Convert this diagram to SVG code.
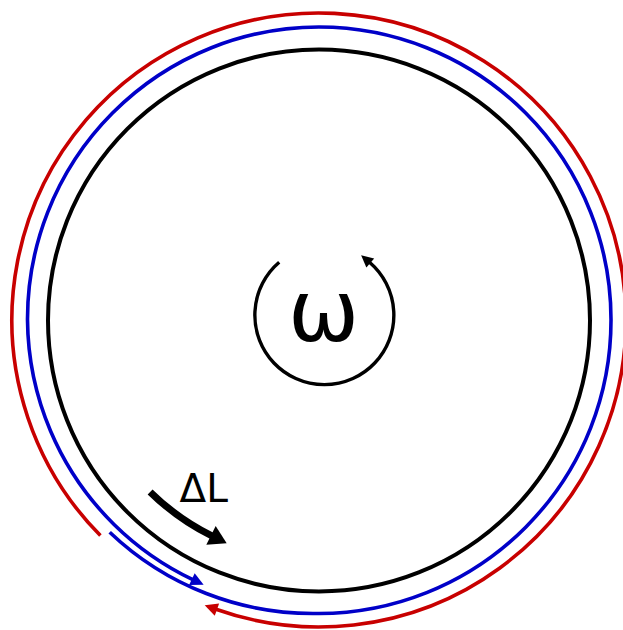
<svg xmlns="http://www.w3.org/2000/svg" width="623" height="630" viewBox="0 0 623 630">
<style>
.ring{fill:none;stroke:#000;stroke-width:4}
.red{fill:none;stroke:#c80000;stroke-width:3.6}
.blue{fill:none;stroke:#0000c8;stroke-width:3.6}
.blk{fill:none;stroke:#000}
.lbl{font-family:"DejaVu Sans",sans-serif;fill:#000}
</style>
<defs>
<marker id="ahRed" markerUnits="userSpaceOnUse" markerWidth="16" markerHeight="14" refX="1" refY="6.5" orient="auto" overflow="visible">
<path d="M0,0 L13,6.5 L0,13 Z" fill="#c80000"/>
</marker>
<marker id="ahBlue" markerUnits="userSpaceOnUse" markerWidth="16" markerHeight="14" refX="1" refY="6.5" orient="auto" overflow="visible">
<path d="M0,0 L13,6.5 L0,13 Z" fill="#0000c8"/>
</marker>
<marker id="ahBig" markerUnits="userSpaceOnUse" markerWidth="20" markerHeight="22" refX="1" refY="10.5" orient="auto" overflow="visible">
<path d="M0,0 L17.5,10.5 L0,21 Z" fill="#000"/>
</marker>
<marker id="ahSmall" markerUnits="userSpaceOnUse" markerWidth="14" markerHeight="14" refX="1" refY="6" orient="auto" overflow="visible">
<path d="M0,0 L12,6 L0,12 Z" fill="#000"/>
</marker>
</defs>
<g id="ring">
<circle class="ring" cx="319" cy="320.5" r="271"/>
</g>
<g id="connectors">
<path id="red-path" class="red" d="M100.4,535.6 A307,307 0 1 1 216,609.2" marker-end="url(#ahRed)"/>
<path id="blue-path" class="blue" d="M109.7,532.2 A295,295 0 0 0 319,613.5 A293,293 0 0 0 611,320 A292.5,292.5 0 0 0 319,27 A292,292 0 0 0 27.5,320 A290.5,290.5 0 0 0 114.3,524.7 A289,289 0 0 0 192.8,579.6" marker-end="url(#ahBlue)"/>
<path id="delta-arrow" class="blk" stroke-width="7" d="M150.1,491.9 A241,241 0 0 0 211.9,535.9" marker-end="url(#ahBig)"/>
<path id="omega-arrow" class="blk" stroke-width="3.4" d="M279.2,262.3 A69.5,69.5 0 1 0 369.5,262.3" marker-end="url(#ahSmall)"/>
</g>
<g id="omega">
<text class="lbl" x="323.5" y="341" font-size="85" text-anchor="middle">ω</text>
</g>
<g id="deltaL">
<text class="lbl" x="179.5" y="502" font-size="39">ΔL</text>
</g>
</svg>
